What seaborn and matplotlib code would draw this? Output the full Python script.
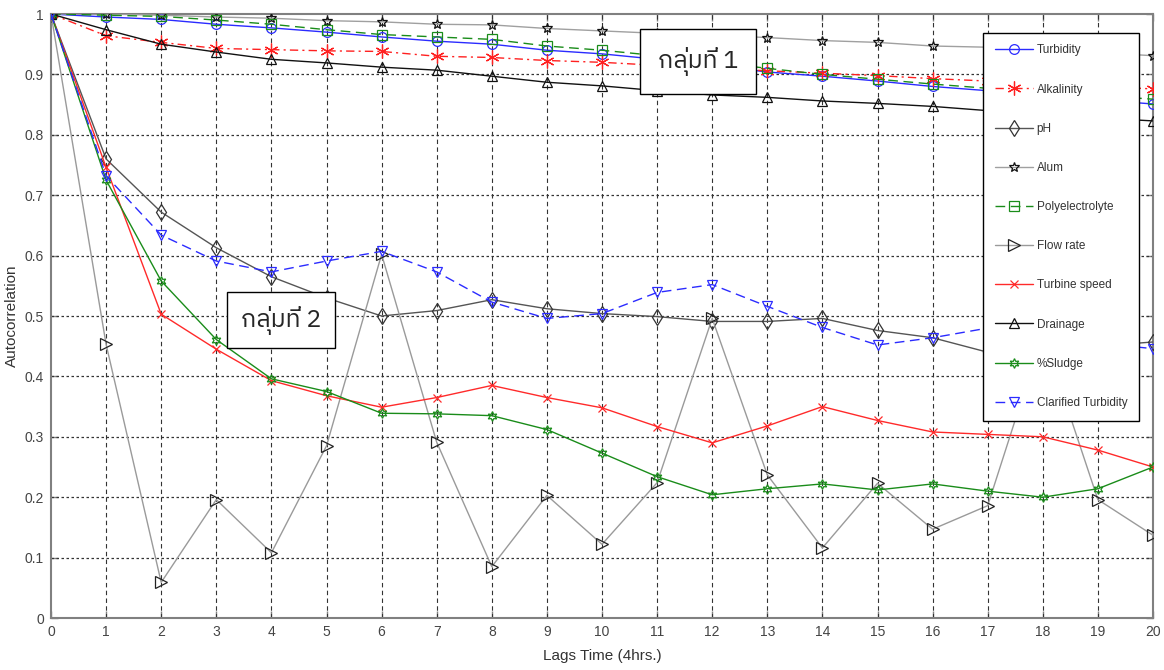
import matplotlib
matplotlib.use("Agg")
import matplotlib.pyplot as plt
import seaborn as sns
from matplotlib import font_manager

# ---------------- data ----------------
lags = list(range(21))
turbidity = [1.0, 0.995, 0.991, 0.983, 0.977, 0.970, 0.962, 0.955, 0.950, 0.940, 0.934,
             0.925, 0.915, 0.904, 0.897, 0.889, 0.880, 0.873, 0.866, 0.858, 0.851]
alkalinity = [1.0, 0.964, 0.953, 0.943, 0.941, 0.939, 0.938, 0.930, 0.928, 0.923, 0.920,
              0.915, 0.910, 0.906, 0.902, 0.898, 0.893, 0.889, 0.885, 0.880, 0.876]
ph = [1.0, 0.760, 0.672, 0.613, 0.565, 0.530, 0.500, 0.509, 0.527, 0.512, 0.504,
      0.499, 0.491, 0.491, 0.496, 0.476, 0.464, 0.440, 0.445, 0.450, 0.457]
alum = [1.0, 1.0, 0.998, 0.995, 0.993, 0.989, 0.987, 0.983, 0.982, 0.976, 0.972,
        0.968, 0.965, 0.961, 0.956, 0.953, 0.947, 0.945, 0.940, 0.936, 0.931]
polyelectrolyte = [1.0, 0.998, 0.996, 0.990, 0.983, 0.974, 0.966, 0.962, 0.958, 0.947, 0.940,
                   0.931, 0.921, 0.910, 0.900, 0.892, 0.884, 0.877, 0.871, 0.865, 0.859]
flow_rate = [1.0, 0.453, 0.059, 0.196, 0.108, 0.285, 0.602, 0.291, 0.085, 0.203, 0.122,
             0.224, 0.496, 0.237, 0.116, 0.223, 0.147, 0.186, 0.470, 0.196, 0.137]
turbine_speed = [1.0, 0.746, 0.503, 0.445, 0.393, 0.368, 0.349, 0.365, 0.385, 0.365, 0.348,
                 0.317, 0.290, 0.318, 0.350, 0.327, 0.308, 0.304, 0.300, 0.278, 0.250]
drainage = [1.0, 0.974, 0.950, 0.937, 0.925, 0.919, 0.912, 0.907, 0.897, 0.887, 0.881,
            0.873, 0.866, 0.862, 0.856, 0.852, 0.847, 0.840, 0.834, 0.828, 0.823]
sludge = [1.0, 0.725, 0.558, 0.461, 0.396, 0.375, 0.339, 0.338, 0.335, 0.312, 0.273,
          0.234, 0.204, 0.214, 0.222, 0.212, 0.222, 0.210, 0.200, 0.214, 0.250]
clarified_turbidity = [1.0, 0.732, 0.634, 0.591, 0.573, 0.591, 0.607, 0.573, 0.523, 0.496, 0.504,
                       0.539, 0.552, 0.516, 0.481, 0.452, 0.464, 0.480, 0.465, 0.455, 0.446]

series_names = ["Turbidity", "Alkalinity", "pH", "Alum", "Polyelectrolyte", "Flow rate",
                "Turbine speed", "Drainage", "%Sludge", "Clarified Turbidity"]
series_values = [turbidity, alkalinity, ph, alum, polyelectrolyte, flow_rate,
                 turbine_speed, drainage, sludge, clarified_turbidity]
x_ticks = list(range(0, 21))
y_ticks = [0, 0.1, 0.2, 0.3, 0.4, 0.5, 0.6, 0.7, 0.8, 0.9, 1]
y_tick_labels = ["0", "0.1", "0.2", "0.3", "0.4", "0.5", "0.6", "0.7", "0.8", "0.9", "1"]
group_labels = ["กลุ่มที่ 1", "กลุ่มที่ 2"]

# ---------------- styles ----------------
styles = {
    "Turbidity": dict(color="#2b2bff", ls="-", marker="o", mec="#2b2bff", ms=7),
    "Alkalinity": dict(color="#ff2020", ls=(0, (6, 3, 1.5, 3)), marker=(6, 2, 0), mec="#ff2020", ms=10),
    "pH": dict(color="#555555", ls="-", marker="d", mec="#333333", ms=8),
    "Alum": dict(color="#a0a0a0", ls="-", marker="*", mec="#111111", ms=7),
    "Polyelectrolyte": dict(color="#1a8c1a", ls=(0, (7, 4)), marker="s", mec="#1a8c1a", ms=7),
    "Flow rate": dict(color="#9a9a9a", ls="-", marker=">", mec="#222222", ms=8),
    "Turbine speed": dict(color="#ff2a2a", ls="-", marker="x", mec="#ff2a2a", ms=6),
    "Drainage": dict(color="#111111", ls="-", marker="^", mec="#111111", ms=7),
    "%Sludge": dict(color="#1a8c1a", ls="-", marker=(6, 1, 0), mec="#1a8c1a", ms=7),
    "Clarified Turbidity": dict(color="#2b2bff", ls=(0, (7, 4)), marker="v", mec="#2b2bff", ms=7),
}

sns.set_theme(style="white")

# fonts
names = {f.name for f in font_manager.fontManager.ttflist}
base = [n for n in ["Liberation Sans Narrow", "Liberation Sans", "DejaVu Sans"] if n in names]
plt.rcParams["font.family"] = base


def find_font_for(ch):
    try:
        from fontTools.ttLib import TTFont
    except Exception:
        return None
    prefer = []
    other = []
    for f in font_manager.fontManager.ttflist:
        try:
            tt = TTFont(f.fname, fontNumber=0, lazy=True)
            cmap = tt.getBestCmap()
            if cmap and ord(ch) in cmap:
                if "Sans" in f.name:
                    prefer.append(f.name)
                else:
                    other.append(f.name)
        except Exception:
            pass
    lst = prefer + other
    return lst[0] if lst else None


thai_font = find_font_for("ก")
thai_family = ([thai_font] if thai_font else []) + ["DejaVu Sans"]

fig = plt.figure(figsize=(11.64, 6.70), dpi=100)
ax = fig.add_axes([51 / 1164, 52 / 670, 1102 / 1164, 604 / 670])

for name, vals in zip(series_names, series_values):
    st = styles[name]
    sns.lineplot(x=lags, y=vals, ax=ax, color=st["color"], linestyle=st["ls"],
                 marker=st["marker"], markersize=st["ms"], markerfacecolor="none",
                 markeredgecolor=st["mec"], markeredgewidth=0.9, linewidth=1.0,
                 label=name, zorder=3)

ax.set_xlim(0, 20)
ax.set_ylim(0, 1)
ax.set_xticks(x_ticks)
ax.set_yticks(y_ticks)
ax.set_yticklabels(y_tick_labels)
ax.tick_params(axis="both", direction="in", length=5, width=1, colors="#808080",
               labelcolor="#444444", labelsize=10, pad=5, top=True, right=True,
               bottom=True, left=True)
for sp in ax.spines.values():
    sp.set_color("#808080")
    sp.set_linewidth(1.5)

ax.grid(False)
for xv in x_ticks[1:-1]:
    ax.axvline(xv, color="#333333", lw=0.8, ls=(0, (4, 3)), zorder=1)
for yv in y_ticks[1:-1]:
    ax.axhline(yv, color="#333333", lw=0.9, ls=(0, (2, 2)), zorder=1)

ax.set_xlabel("Lags Time (4hrs.)", fontsize=11, color="#333333", labelpad=7)
ax.set_ylabel("Autocorrelation", fontsize=11, color="#333333", labelpad=4)

leg = ax.legend(loc="upper right", bbox_to_anchor=(0.9905, 0.975), fontsize=8.5,
                labelspacing=2.3, handlelength=3.2, handletextpad=0.3,
                borderpad=1.0, borderaxespad=0.3, fancybox=False, frameon=True, framealpha=1)
leg.get_frame().set_edgecolor("black")
leg.get_frame().set_linewidth(1.0)
leg.set_zorder(10)
for t in leg.get_texts():
    t.set_color("#333333")

ax.text(11.74, 0.922, group_labels[0], ha="center", va="center", fontsize=18,
        family=thai_family, zorder=8,
        bbox=dict(boxstyle="square,pad=0.72", fc="white", ec="black", lw=1.0))
ax.text(4.17, 0.493, group_labels[1], ha="center", va="center", fontsize=18,
        family=thai_family, zorder=8,
        bbox=dict(boxstyle="square,pad=0.55", fc="white", ec="black", lw=1.0))

fig.savefig("out.png", dpi=100)
